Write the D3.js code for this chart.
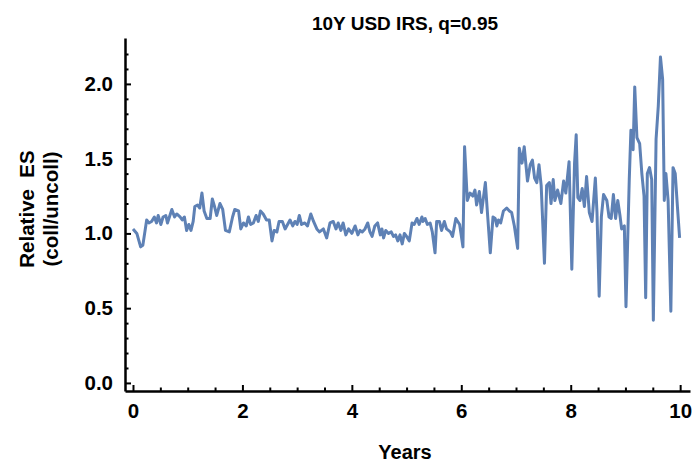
<!DOCTYPE html>
<html>
<head>
<meta charset="utf-8">
<script src="https://cdn.jsdelivr.net/npm/d3@7"></script>
<style>
  html, body { margin: 0; padding: 0; background: #fff; }
  svg { display: block; }
  text { font-family: "Liberation Sans", Arial, sans-serif; font-weight: bold; fill: #000; }
</style>
</head>
<body>
<svg id="chart" width="696" height="463"></svg>
<script>
const title = "10Y USD IRS, q=0.95";
const xLabel = "Years";
const yLabelLines = ["Relative  ES", "(coll/uncoll)"];

const xMajorTicks = [0, 2, 4, 6, 8, 10];
const xMinorTicks = [0.5, 1, 1.5, 2.5, 3, 3.5, 4.5, 5, 5.5, 6.5, 7, 7.5, 8.5, 9, 9.5];
const yMajorTicks = [0, 0.5, 1.0, 1.5, 2.0];
const yMinorTicks = [0.1,0.2,0.3,0.4,0.6,0.7,0.8,0.9,1.1,1.2,1.3,1.4,1.6,1.7,1.8,1.9,2.1,2.2];

const years = [
  0.00,0.07,0.14,0.18,0.25,0.29,0.34,0.39,0.43,0.46,0.51,0.55,0.60,0.63,0.71,0.76,0.80,0.86,0.90,0.94,
  0.98,1.02,1.06,1.10,1.13,1.18,1.22,1.26,1.30,1.35,1.41,1.45,1.49,1.53,1.59,1.64,1.69,
  1.76,1.82,1.86,1.93,1.97,2.02,2.07,2.11,2.15,2.20,2.25,2.29,2.33,2.38,2.44,2.49,2.54,2.58,2.63,2.67,
  2.73,2.78,2.81,2.87,2.92,2.96,3.00,3.04,3.08,3.14,3.19,3.25,3.30,3.36,3.41,
  3.48,3.54,3.60,3.66,3.71,3.75,3.80,3.84,3.89,3.94,4.00,4.06,4.11,4.15,4.19,4.24,4.29,4.33,4.37,4.42,
  4.47,4.52,4.55,4.58,4.62,4.67,4.72,4.76,4.80,4.84,4.88,4.92,4.96,5.00,5.05,5.10,5.14,5.19,5.23,5.28,
  5.30,5.34,5.38,5.43,5.47,5.52,5.55,5.60,5.64,5.69,5.73,5.80,5.84,5.90,5.97,6.03,6.06,6.11,6.16,6.21,
  6.25,6.28,6.33,6.37,6.44,6.47,6.53,6.58,6.62,6.65,6.68,6.72,6.77,6.83,6.88,6.92,6.97,7.03,7.06,7.11,
  7.15,7.21,7.26,7.30,7.34,7.38,7.42,7.46,7.52,7.56,7.61,7.64,7.68,7.71,7.76,7.82,7.87,7.91,7.97,8.02,
  8.07,8.10,8.13,8.17,8.21,8.25,8.29,8.34,8.39,8.45,8.48,8.52,8.56,8.60,8.66,8.70,8.74,8.78,8.82,8.86,
  8.90,8.93,8.98,9.01,9.07,9.10,9.14,9.17,9.21,9.26,9.30,9.34,9.37,9.40,9.44,9.48,9.51,9.56,9.60,9.64,
  9.68,9.71,9.74,9.78,9.83,9.87,9.91,9.95,9.99
];
const relES = [
  1.03,1.00,0.91,0.92,1.09,1.07,1.08,1.11,1.07,1.12,1.06,1.11,1.12,1.07,1.16,1.11,1.13,1.11,1.09,1.11,
  1.02,1.06,1.02,1.08,1.18,1.19,1.17,1.27,1.15,1.10,1.10,1.23,1.18,1.12,1.20,1.16,1.02,
  1.01,1.11,1.16,1.15,1.03,1.07,1.05,1.11,1.06,1.07,1.12,1.08,1.15,1.13,1.09,1.09,0.95,1.02,1.01,1.08,
  1.08,1.03,1.05,1.09,1.05,1.08,1.06,1.12,1.06,1.07,1.05,1.13,1.08,1.03,1.01,
  1.03,0.97,1.07,1.08,1.03,1.07,1.02,1.07,0.99,1.03,1.00,1.05,0.99,1.02,1.01,1.03,1.07,1.01,0.98,1.05,
  1.07,0.99,1.03,0.97,1.02,1.00,1.01,0.98,0.99,0.95,0.99,0.93,1.00,0.98,0.95,1.07,1.06,1.10,1.06,1.11,
  1.08,1.10,1.06,1.07,1.01,0.87,1.08,1.08,1.02,1.08,1.03,1.01,0.98,1.10,1.06,0.91,1.58,1.22,1.27,1.25,
  1.29,1.19,1.28,1.14,1.34,1.18,0.87,1.11,1.10,1.05,1.09,1.07,1.15,1.17,1.15,1.14,1.05,0.90,1.57,1.47,
  1.58,1.35,1.46,1.49,1.37,1.34,1.46,1.32,0.80,1.32,1.34,1.20,1.36,1.22,1.29,1.20,1.35,1.27,1.48,0.76,
  1.47,1.66,1.24,1.22,1.30,1.18,1.38,1.14,1.08,1.37,1.14,0.58,1.11,1.26,1.22,1.11,1.10,1.26,1.10,1.22,
  1.12,1.03,1.05,0.51,1.36,1.69,1.56,1.98,1.64,1.60,1.40,1.25,0.57,1.40,1.44,1.36,0.42,1.63,1.85,2.18,
  2.03,1.22,1.40,1.22,0.48,1.44,1.40,1.18,0.97
];

const data = years.map((t, i) => ({ t, v: relES[i] }));
const fontFam = "'Liberation Sans', Arial, sans-serif";

const svg = d3.select("#chart");
const x = d3.scaleLinear().domain([-0.146, 10.18]).range([125, 690]);
const y = d3.scaleLinear().domain([-0.054, 2.307]).range([391, 38]);

// line
svg.append("path")
  .datum(data)
  .attr("fill", "none")
  .attr("stroke", "#5E81B5")
  .attr("stroke-width", 3)
  .attr("stroke-linejoin", "round")
  .attr("d", d3.line().x(d => x(d.t)).y(d => y(d.v)));

// y axis
const yAxisG = svg.append("g").attr("transform", "translate(125,0)");
yAxisG.call(d3.axisLeft(y).tickValues(yMajorTicks).tickFormat(d3.format(".1f"))
  .tickSizeInner(-6).tickSizeOuter(0).tickPadding(12));
const yMinorG = svg.append("g").attr("transform", "translate(125,0)");
yMinorG.call(d3.axisLeft(y).tickValues(yMinorTicks).tickFormat("")
  .tickSizeInner(-3.5).tickSizeOuter(0));
yMinorG.select(".domain").remove();

// x axis
const xAxisG = svg.append("g").attr("transform", "translate(0,391)");
xAxisG.call(d3.axisBottom(x).tickValues(xMajorTicks).tickFormat(d3.format("d"))
  .tickSizeInner(-6).tickSizeOuter(0).tickPadding(12));
const xMinorG = svg.append("g").attr("transform", "translate(0,391)");
xMinorG.call(d3.axisBottom(x).tickValues(xMinorTicks).tickFormat("")
  .tickSizeInner(-3.5).tickSizeOuter(0));
xMinorG.select(".domain").remove();

svg.selectAll(".domain").attr("stroke", "#000").attr("stroke-width", 2.5);
svg.selectAll(".tick line").attr("stroke", "#000").attr("stroke-width", 2);
svg.selectAll(".tick text")
  .attr("font-family", fontFam)
  .attr("font-weight", "bold")
  .attr("font-size", 20.5)
  .attr("fill", "#000");

// title
svg.append("text")
  .attr("x", 405).attr("y", 30)
  .attr("text-anchor", "middle")
  .attr("font-size", 19)
  .text(title);

// x label
svg.append("text")
  .attr("x", 405).attr("y", 459)
  .attr("text-anchor", "middle")
  .attr("font-size", 20)
  .text(xLabel);

// y label (two lines)
const yLabelX = [33.5, 58];
yLabelLines.forEach((line, i) => {
  svg.append("text")
    .attr("transform", `translate(${yLabelX[i]},209) rotate(-90)`)
    .attr("text-anchor", "middle")
    .attr("font-size", 20.5)
    .style("white-space", "pre")
    .text(line);
});
</script>
</body>
</html>
